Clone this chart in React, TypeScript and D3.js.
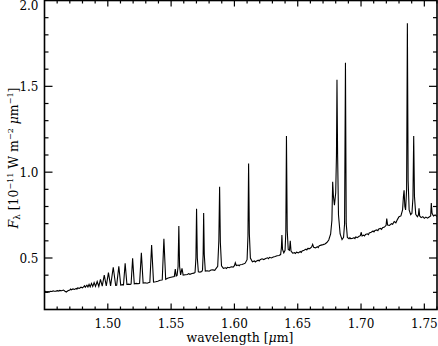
import React from 'react';
import * as d3 from 'd3';

const W = 438;
const H = 346;

const xDomain: [number, number] = [1.45, 1.76];
const yDomain: [number, number] = [0.2, 2.0];
const xTickValues = [1.5, 1.55, 1.6, 1.65, 1.7, 1.75];
const xTickLabels = ['1.50', '1.55', '1.60', '1.65', '1.70', '1.75'];
const yTickValues = [0.5, 1.0, 1.5, 2.0];
const yTickLabels = ['0.5', '1.0', '1.5', '2.0'];

// [wavelength (µm), flux (1e-11 W m^-2 µm^-1)]
const segBlue: [number, number][] = [
  [1.45, 0.302], [1.4508, 0.305], [1.4515, 0.303], [1.453, 0.304], [1.4538, 0.301], [1.4545, 0.306], [1.456, 0.305],
  [1.4568, 0.309], [1.4575, 0.306], [1.459, 0.307], [1.4605, 0.31], [1.4612, 0.307], [1.462, 0.311], [1.4635, 0.309],
  [1.465, 0.313], [1.4662, 0.306], [1.4672, 0.302], [1.4685, 0.309], [1.47, 0.313],
  [1.4706, 0.319], [1.4712, 0.315], [1.4725, 0.32], [1.4738, 0.317], [1.475, 0.323], [1.4756, 0.319], [1.4762, 0.326],
  [1.4775, 0.323], [1.4788, 0.33], [1.48, 0.326], [1.481, 0.333],
];

const segHighN: [number, number][] = [
  [1.4816, 0.338], [1.4822, 0.33], [1.4835, 0.342], [1.4843, 0.331], [1.4852, 0.346],
  [1.4861, 0.332], [1.4871, 0.352], [1.4881, 0.334], [1.4892, 0.357], [1.4903, 0.335],
  [1.4916, 0.363], [1.4929, 0.334], [1.4942, 0.376], [1.4956, 0.336], [1.4972, 0.4],
  [1.4988, 0.337], [1.5005, 0.415], [1.5022, 0.338], [1.5043, 0.446], [1.5062, 0.34],
  [1.507, 0.341], [1.5087, 0.452], [1.5102, 0.342], [1.5118, 0.345],
];

const segMid: [number, number][] = [
  [1.5124, 0.344], [1.5137, 0.469], [1.5151, 0.346], [1.5165, 0.348], [1.5178, 0.346],
  [1.5184, 0.349], [1.5196, 0.498], [1.5209, 0.35], [1.5225, 0.352], [1.524, 0.35],
  [1.5251, 0.353], [1.5265, 0.531], [1.5279, 0.354], [1.5295, 0.356], [1.531, 0.353],
  [1.5325, 0.357], [1.5332, 0.358], [1.5346, 0.576], [1.5361, 0.36], [1.5378, 0.362],
  [1.5395, 0.365], [1.5412, 0.37], [1.5427, 0.372], [1.543, 0.373], [1.5443, 0.612],
  [1.5457, 0.376], [1.5472, 0.382], [1.549, 0.386], [1.5508, 0.389], [1.5525, 0.392],
  [1.5533, 0.435], [1.554, 0.395], [1.5547, 0.398], [1.5555, 0.45], [1.5561, 0.686],
  [1.5567, 0.45], [1.5575, 0.402], [1.5586, 0.44], [1.5595, 0.4], [1.5612, 0.402],
  [1.563, 0.404], [1.5638, 0.409], [1.5648, 0.405], [1.5665, 0.41], [1.568, 0.412], [1.5689, 0.416],
  [1.5696, 0.5], [1.5701, 0.787], [1.5707, 0.5], [1.5715, 0.42], [1.5728, 0.418],
  [1.5742, 0.421], [1.5748, 0.43], [1.5753, 0.52], [1.5757, 0.762], [1.5762, 0.52],
  [1.577, 0.424], [1.5785, 0.426], [1.58, 0.423], [1.5815, 0.43], [1.583, 0.431],
  [1.5845, 0.428], [1.5853, 0.437], [1.5868, 0.452], [1.5877, 0.6], [1.5883, 0.915],
  [1.5889, 0.59], [1.5898, 0.455], [1.5913, 0.44],
];

const segH: [number, number][] = [
  [1.593, 0.443], [1.5938, 0.439], [1.5945, 0.446], [1.596, 0.443], [1.5975, 0.449], [1.599, 0.447],
  [1.6, 0.455], [1.6007, 0.472], [1.6015, 0.456], [1.603, 0.459], [1.6038, 0.455], [1.6045, 0.461],
  [1.606, 0.462], [1.6075, 0.466], [1.6085, 0.47], [1.61, 0.49], [1.6107, 0.63],
  [1.6112, 1.05], [1.6118, 0.64], [1.6126, 0.5], [1.6142, 0.478], [1.6158, 0.483],
  [1.6165, 0.477], [1.6172, 0.481], [1.6188, 0.487], [1.6196, 0.483], [1.6203, 0.49], [1.6218, 0.495], [1.6232, 0.491],
  [1.6247, 0.497], [1.6262, 0.501], [1.627, 0.496], [1.6277, 0.504], [1.6292, 0.5], [1.6307, 0.506],
  [1.6322, 0.509], [1.6337, 0.513], [1.6352, 0.515], [1.6365, 0.52], [1.6371, 0.56],
  [1.6375, 0.634], [1.638, 0.55], [1.639, 0.53], [1.64, 0.545], [1.6406, 0.65],
  [1.6411, 1.21], [1.6417, 0.66], [1.6425, 0.55], [1.6435, 0.545], [1.6441, 0.6],
  [1.6447, 0.54], [1.646, 0.528],
];

const segRed: [number, number][] = [
  [1.6475, 0.531], [1.6482, 0.526], [1.649, 0.534], [1.6505, 0.53], [1.652, 0.538], [1.6528, 0.533], [1.6535, 0.541],
  [1.655, 0.545], [1.6565, 0.552], [1.6572, 0.547], [1.658, 0.556], [1.6595, 0.555], [1.661, 0.565],
  [1.6618, 0.58], [1.6626, 0.562], [1.664, 0.559], [1.6655, 0.566], [1.6662, 0.561], [1.667, 0.571],
  [1.6685, 0.575], [1.67, 0.578], [1.6715, 0.582], [1.673, 0.59], [1.6745, 0.605],
  [1.676, 0.64], [1.677, 0.72], [1.6776, 0.944], [1.6782, 0.86], [1.679, 0.808],
  [1.68, 0.88], [1.6806, 1.1], [1.681, 1.539], [1.6815, 1.1], [1.6822, 0.75],
  [1.6835, 0.64], [1.685, 0.607], [1.6862, 0.62], [1.687, 0.7], [1.6877, 1.638],
  [1.6883, 0.7], [1.6892, 0.62], [1.6905, 0.612], [1.6912, 0.619], [1.6918, 0.613], [1.693, 0.614],
  [1.6945, 0.618], [1.6952, 0.613], [1.6958, 0.623], [1.697, 0.619], [1.6985, 0.627], [1.6995, 0.63],
  [1.7001, 0.65], [1.7008, 0.628], [1.702, 0.633], [1.7028, 0.628], [1.7035, 0.637], [1.705, 0.641],
  [1.7058, 0.636], [1.7065, 0.646], [1.708, 0.65], [1.7095, 0.657], [1.7102, 0.652], [1.711, 0.661], [1.7125, 0.664],
  [1.7133, 0.659], [1.714, 0.669], [1.7155, 0.672], [1.7162, 0.667], [1.717, 0.677], [1.7185, 0.68], [1.7198, 0.69],
  [1.7203, 0.73], [1.721, 0.692], [1.7225, 0.69], [1.724, 0.7], [1.725, 0.696],
  [1.7262, 0.712], [1.7275, 0.705], [1.7288, 0.725], [1.73, 0.74], [1.7315, 0.745],
  [1.7328, 0.78], [1.7335, 0.86], [1.734, 0.895], [1.7346, 0.8], [1.7352, 0.78],
  [1.736, 0.9], [1.7366, 1.868], [1.7372, 0.95], [1.738, 0.78], [1.7392, 0.752],
  [1.7402, 0.76], [1.741, 0.85], [1.7416, 1.21], [1.7422, 0.86], [1.7432, 0.755],
  [1.7445, 0.74], [1.7453, 0.75], [1.7458, 0.79], [1.7463, 0.745], [1.7475, 0.735],
  [1.7488, 0.741], [1.75, 0.731], [1.7512, 0.738], [1.7525, 0.732], [1.7538, 0.739],
  [1.755, 0.745], [1.7555, 0.82], [1.7561, 0.76], [1.7572, 0.745], [1.7585, 0.751],
  [1.76, 0.742],
];

const FONT = '"DejaVu Serif", serif';

export default function App() {
  const left = 44.5;
  const right = 437;
  const top = 0.5;
  const bottom = 309.5;
  const x = d3.scaleLinear().domain(xDomain).range([left, right]);
  const y = d3.scaleLinear().domain(yDomain).range([bottom, top]);
  const data = [...segBlue, ...segHighN, ...segMid, ...segH, ...segRed];
  const line = d3
    .line<[number, number]>()
    .x((d) => x(d[0]))
    .y((d) => y(d[1]));

  const xMinor = d3.range(146, 177).map((v) => v / 100);
  const yMinor = d3.range(3, 20).map((v) => v / 10);
  const isXMajor = (v: number) => xTickValues.some((t) => Math.abs(t - v) < 1e-6);
  const isYMajor = (v: number) => yTickValues.some((t) => Math.abs(t - v) < 1e-6);

  return (
    <svg
      width={W}
      height={H}
      style={{ position: 'absolute', left: 0, top: 0, background: '#fff' }}
    >
      <defs>
        <clipPath id="plotclip">
          <rect x={left} y={top} width={right - left} height={bottom - top} />
        </clipPath>
      </defs>
      <path
        d={line(data) || ''}
        fill="none"
        stroke="#000"
        strokeWidth={1.1}
        clipPath="url(#plotclip)"
      />
      <rect
        x={left}
        y={top}
        width={right - left}
        height={bottom - top}
        fill="none"
        stroke="#000"
        strokeWidth={1.6}
      />
      {xMinor.map((v) => {
        const len = isXMajor(v) ? 6 : 3;
        const px = x(v);
        return (
          <g key={'xt' + v}>
            <line x1={px} x2={px} y1={bottom} y2={bottom - len} stroke="#000" strokeWidth={1.2} />
            <line x1={px} x2={px} y1={top} y2={top + len} stroke="#000" strokeWidth={1.2} />
          </g>
        );
      })}
      {yMinor.map((v) => {
        const len = isYMajor(v) ? 8 : 4;
        const py = y(v);
        return (
          <g key={'yt' + v}>
            <line x1={left} x2={left + len} y1={py} y2={py} stroke="#000" strokeWidth={1.2} />
            <line x1={right} x2={right - len} y1={py} y2={py} stroke="#000" strokeWidth={1.2} />
          </g>
        );
      })}
      {xTickValues.map((v, i) => (
        <text
          key={'xl' + i}
          x={x(v)}
          y={328}
          textAnchor="middle"
          fontFamily={FONT}
          fontSize={12}
          fill="#000"
        >
          {xTickLabels[i]}
        </text>
      ))}
      {yTickValues.map((v, i) => (
        <text
          key={'yl' + i}
          x={38.5}
          y={Math.max(y(v) + 4.5, 9.5)}
          textAnchor="end"
          fontFamily={FONT}
          fontSize={12}
          fill="#000"
        >
          {yTickLabels[i]}
        </text>
      ))}
      <text x={240} y={342} textAnchor="middle" fontFamily={FONT} fontSize={12.5} fill="#000">
        wavelength [<tspan fontStyle="italic">μ</tspan>m]
      </text>
      <text
        transform={`translate(18,158) rotate(-90)`}
        textAnchor="middle"
        fontFamily={FONT}
        fontSize={12.5}
        fill="#000"
      >
        <tspan fontStyle="italic">F</tspan>
        <tspan fontSize={8.5} dy={2}>λ</tspan>
        <tspan dy={-2}> [10</tspan>
        <tspan fontSize={8} dy={-5}>−11</tspan>
        <tspan dy={5}> W m</tspan>
        <tspan fontSize={8} dy={-5}>−2</tspan>
        <tspan dy={5}> </tspan>
        <tspan fontStyle="italic">μ</tspan>
        <tspan>m</tspan>
        <tspan fontSize={8} dy={-5}>−1</tspan>
        <tspan dy={5}>]</tspan>
      </text>
    </svg>
  );
}
